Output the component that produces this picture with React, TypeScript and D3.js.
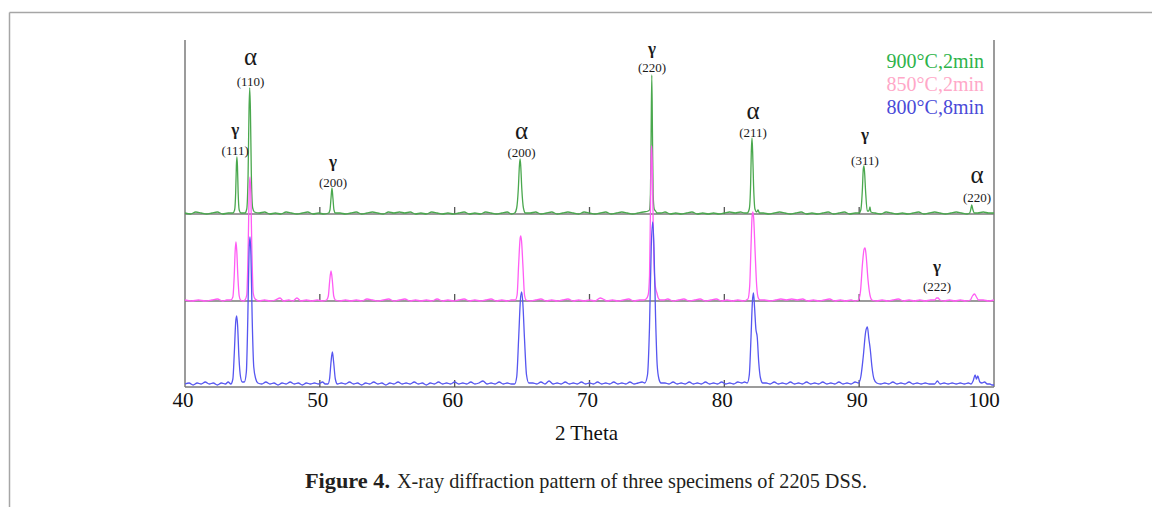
import * as d3 from "d3";

// ---------- data ----------
const X_TICKS = [40, 50, 60, 70, 80, 90, 100];
const INNER_TICKS = [50, 60, 70, 80, 90];
const SERIES_NAMES = ["900°C,2min", "850°C,2min", "800°C,8min"];
const STACK_OFFSETS = [173, 86, 0]; // vertical offset of each pattern (a.u.)

// [2θ, intensity a.u.]
const GREEN_PEAKS: [number, number][] = [
  [43.55, 1], [43.68, 4], [43.76, 22], [43.81, 48], [43.85, 57], [43.89, 48], [43.94, 22], [44.02, 4], [44.15, 1],
  [44.45, 1], [44.58, 5], [44.68, 40], [44.75, 105], [44.8, 126], [44.85, 105], [44.92, 40], [45.02, 6], [45.15, 2],
  [50.65, 1], [50.75, 4], [50.83, 16], [50.9, 26], [50.97, 16], [51.05, 4], [51.15, 1],
  [64.45, 1], [64.6, 6], [64.72, 25], [64.8, 48], [64.85, 55], [64.9, 48], [64.98, 25], [65.1, 6], [65.25, 1],
  [74.35, 3], [74.45, 4], [74.52, 20], [74.57, 80], [74.62, 139], [74.67, 80], [74.72, 20], [74.8, 5], [74.9, 3], [75.0, 1],
  [81.7, 1], [81.85, 5], [81.95, 30], [82.0, 62], [82.05, 76], [82.1, 62], [82.17, 28], [82.27, 5], [82.4, 2], [82.5, 4], [82.6, 1],
  [90.0, 1], [90.12, 4], [90.24, 25], [90.3, 44], [90.35, 48], [90.4, 42], [90.48, 22], [90.6, 3], [90.72, 3], [90.8, 7], [90.87, 2],
  [98.2, 1], [98.3, 6], [98.35, 9], [98.42, 5], [98.55, 1],
];
const GREEN_NOISE: [number, number][] = [
  [40.0, 1], [40.4, 0], [40.8, 2], [41.2, 1], [41.6, 0], [42.0, 1], [42.4, 2], [42.8, 0], [43.2, 1],
  [44.3, 1], [45.5, 1], [45.9, 2], [46.3, 0], [46.7, 1], [47.1, 0], [47.5, 2], [47.9, 1], [48.3, 0], [48.7, 1],
  [49.1, 2], [49.5, 0], [49.9, 1], [50.3, 0], [51.5, 1], [51.9, 0], [52.3, 1], [52.7, 2], [53.1, 0], [53.5, 1],
  [53.9, 2], [54.3, 1], [54.7, 0], [55.1, 2], [55.5, 1], [55.9, 2], [56.3, 1], [56.7, 2], [57.1, 0], [57.5, 1],
  [57.9, 0], [58.3, 2], [58.7, 1], [59.1, 0], [59.5, 1], [59.9, 0], [60.3, 1], [60.7, 2], [61.1, 0], [61.5, 1],
  [61.9, 0], [62.3, 2], [62.7, 1], [63.1, 0], [63.5, 1], [63.9, 2], [64.2, 0], [65.6, 1], [66.0, 2], [66.4, 0],
  [66.8, 1], [67.2, 2], [67.6, 0], [68.0, 1], [68.4, 2], [68.8, 1], [69.2, 0], [69.6, 2], [70.0, 1], [70.4, 0],
  [70.8, 1], [71.2, 2], [71.6, 0], [72.0, 1], [72.4, 2], [72.8, 1], [73.2, 0], [73.6, 1], [74.0, 2], [75.3, 1],
  [75.6, 2], [76.0, 0], [76.4, 1], [76.8, 0], [77.2, 1], [77.6, 2], [78.0, 0], [78.4, 1], [78.8, 0], [79.2, 1],
  [79.6, 0], [80.0, 1], [80.4, 2], [80.8, 1], [81.2, 2], [81.5, 1], [82.9, 1], [83.3, 0], [83.7, 1], [84.1, 2],
  [84.5, 1], [84.9, 0], [85.3, 1], [85.7, 2], [86.1, 0], [86.5, 1], [86.9, 0], [87.3, 1], [87.7, 2], [88.1, 0],
  [88.5, 1], [88.9, 2], [89.3, 0], [89.7, 1], [91.2, 1], [91.6, 0], [92.0, 2], [92.4, 1], [92.8, 0], [93.2, 1],
  [93.6, 0], [94.0, 1], [94.4, 2], [94.8, 0], [95.2, 1], [95.6, 2], [96.0, 1], [96.4, 0], [96.8, 1], [97.2, 2],
  [97.6, 1], [98.0, 0], [98.8, 1], [99.2, 2], [99.6, 1], [100, 1],
];

const PINK_PEAKS: [number, number][] = [
  [43.4, 1], [43.55, 4], [43.65, 25], [43.72, 50], [43.78, 59], [43.84, 50], [43.92, 25], [44.02, 5], [44.12, 1],
  [44.45, 1], [44.58, 6], [44.68, 50], [44.76, 110], [44.82, 124], [44.88, 108], [44.96, 50], [45.06, 8], [45.2, 2],
  [50.5, 1], [50.63, 5], [50.73, 20], [50.83, 30], [50.93, 20], [51.03, 5], [51.15, 1],
  [64.5, 1], [64.63, 6], [64.75, 38], [64.85, 62], [64.9, 65], [64.96, 60], [65.06, 36], [65.18, 6], [65.3, 1],
  [74.2, 2], [74.35, 6], [74.45, 25], [74.52, 90], [74.58, 150], [74.62, 155], [74.66, 130], [74.72, 80], [74.78, 40], [74.88, 15], [75.0, 8], [75.1, 3], [75.25, 1],
  [81.75, 2], [81.88, 15], [81.98, 55], [82.06, 85], [82.12, 89], [82.18, 82], [82.28, 50], [82.4, 15], [82.52, 3], [82.65, 1],
  [89.95, 1], [90.1, 10], [90.25, 38], [90.37, 52], [90.44, 53], [90.52, 45], [90.65, 22], [90.8, 6], [90.95, 1],
  [95.6, 1], [95.75, 3], [95.85, 3], [96.0, 1],
  [98.25, 1], [98.4, 5], [98.55, 7], [98.7, 4], [98.85, 1],
];
const PINK_NOISE: [number, number][] = [
  [40.0, 1], [40.5, 0], [41.0, 1], [41.5, 0], [42.0, 1], [42.4, 2], [42.8, 0], [43.1, 1], [44.3, 0],
  [45.5, 0], [45.9, 1], [46.3, 0], [46.7, 1], [47.05, 3], [47.3, 0], [47.7, 1], [48.0, 0], [48.3, 3], [48.6, 0],
  [49.0, 1], [49.4, 0], [49.8, 1], [50.2, 0], [51.5, 0], [51.9, 1], [52.3, 0], [52.7, 1], [53.1, 0], [53.5, 2],
  [53.9, 1], [54.3, 0], [54.7, 1], [55.1, 2], [55.5, 0], [55.9, 1], [56.3, 2], [56.7, 0], [57.1, 1], [57.5, 0],
  [57.9, 1], [58.3, 0], [58.7, 2], [59.1, 0], [59.5, 1], [59.9, 0], [60.3, 1], [60.7, 2], [61.1, 0], [61.5, 1],
  [61.9, 0], [62.3, 1], [62.7, 2], [63.1, 0], [63.5, 1], [63.9, 0], [64.2, 1], [65.6, 0], [66.0, 1], [66.4, 2],
  [66.8, 0], [67.2, 1], [67.6, 0], [68.0, 1], [68.4, 2], [68.8, 0], [69.2, 1], [69.6, 0], [70.0, 1], [70.4, 0],
  [70.8, 3], [71.0, 2], [71.3, 0], [71.7, 1], [72.1, 0], [72.5, 1], [72.9, 2], [73.3, 0], [73.7, 1], [74.0, 1],
  [75.5, 1], [75.8, 2], [76.2, 0], [76.6, 1], [77.0, 2], [77.4, 0], [77.8, 1], [78.2, 2], [78.6, 0], [79.0, 1],
  [79.4, 2], [79.8, 0], [80.2, 1], [80.6, 0], [81.0, 1], [81.4, 0], [83.0, 1], [83.4, 0], [83.8, 1], [84.2, 2],
  [84.6, 1], [85.0, 2], [85.4, 1], [85.8, 2], [86.2, 0], [86.6, 1], [87.0, 0], [87.4, 1], [87.8, 2], [88.2, 0],
  [88.6, 1], [89.0, 0], [89.4, 1], [89.7, 0], [91.3, 0], [91.7, 1], [92.1, 0], [92.5, 1], [92.9, 2], [93.3, 0],
  [93.7, 1], [94.1, 0], [94.5, 1], [94.9, 0], [95.3, 1], [96.3, 0], [96.7, 1], [97.1, 0], [97.5, 1], [97.9, 0],
  [99.2, 1], [99.6, 0], [100, 1],
];

const BLUE_PEAKS: [number, number][] = [
  [43.4, 3], [43.55, 8], [43.66, 35], [43.76, 65], [43.83, 71], [43.9, 62], [44.0, 30], [44.12, 10], [44.25, 5],
  [44.4, 5], [44.55, 15], [44.66, 70], [44.75, 135], [44.82, 150], [44.89, 132], [44.98, 70], [45.1, 20], [45.25, 8], [45.4, 4],
  [50.6, 3], [50.72, 8], [50.83, 25], [50.93, 35], [51.03, 24], [51.15, 8], [51.3, 3],
  [64.45, 3], [64.6, 10], [64.75, 50], [64.88, 88], [64.97, 95], [65.05, 85], [65.18, 48], [65.33, 12], [65.5, 4],
  [74.1, 4], [74.3, 12], [74.45, 60], [74.58, 140], [74.69, 165], [74.78, 140], [74.9, 70], [75.02, 22], [75.15, 8], [75.3, 4],
  [81.7, 4], [81.85, 12], [81.98, 50], [82.08, 85], [82.16, 94], [82.24, 80], [82.34, 58], [82.44, 50], [82.55, 25], [82.68, 9], [82.85, 4],
  [89.95, 4], [90.12, 10], [90.3, 30], [90.48, 55], [90.61, 60], [90.72, 48], [90.82, 38], [90.95, 20], [91.1, 8], [91.3, 4],
  [95.6, 3], [95.8, 6], [96.0, 3],
  [98.3, 3], [98.45, 6], [98.6, 12], [98.7, 8], [98.8, 11], [98.95, 5], [99.1, 4], [99.3, 5], [99.5, 3], [99.7, 3], [99.85, 2],
];
const BLUE_NOISE: [number, number][] = [
  [40.0, 3], [40.3, 4], [40.6, 2], [40.9, 4], [41.2, 3], [41.5, 5], [41.8, 3], [42.1, 4], [42.4, 2], [42.7, 4], [43.0, 3], [43.2, 5],
  [45.7, 3], [46.0, 5], [46.3, 3], [46.6, 4], [46.9, 2], [47.2, 4], [47.5, 3], [47.8, 5], [48.1, 3], [48.4, 4], [48.7, 2],
  [49.0, 4], [49.3, 3], [49.6, 4], [49.9, 3], [50.2, 5], [50.4, 3], [51.6, 4], [51.9, 3], [52.2, 5], [52.5, 3], [52.8, 4],
  [53.1, 2], [53.4, 4], [53.7, 3], [54.0, 5], [54.3, 3], [54.6, 4], [54.9, 2], [55.2, 4], [55.5, 3], [55.8, 5], [56.1, 3],
  [56.4, 4], [56.7, 3], [57.0, 5], [57.3, 3], [57.6, 4], [57.9, 2], [58.2, 4], [58.5, 3], [58.8, 5], [59.1, 3], [59.4, 4],
  [59.7, 3], [60.0, 5], [60.3, 3], [60.6, 4], [60.9, 3], [61.2, 5], [61.5, 3], [61.8, 4], [62.1, 6], [62.4, 3], [62.7, 4],
  [63.0, 3], [63.3, 5], [63.6, 3], [63.9, 4], [64.2, 3], [65.8, 4], [66.1, 3], [66.4, 5], [66.7, 3], [67.0, 6], [67.3, 3],
  [67.6, 4], [67.9, 3], [68.2, 5], [68.5, 3], [68.8, 4], [69.1, 3], [69.4, 5], [69.7, 3], [70.0, 4], [70.3, 3], [70.6, 5],
  [70.9, 3], [71.2, 4], [71.5, 3], [71.8, 5], [72.1, 3], [72.4, 4], [72.7, 3], [73.0, 5], [73.3, 3], [73.6, 4], [73.9, 5],
  [75.6, 4], [75.9, 3], [76.2, 5], [76.5, 3], [76.8, 4], [77.1, 3], [77.4, 5], [77.7, 3], [78.0, 4], [78.3, 3], [78.6, 5],
  [78.9, 3], [79.2, 4], [79.5, 3], [79.8, 5], [80.1, 3], [80.4, 4], [80.7, 3], [81.0, 5], [81.3, 4], [81.5, 5], [83.1, 4],
  [83.4, 3], [83.7, 5], [84.0, 3], [84.3, 4], [84.6, 3], [84.9, 5], [85.2, 3], [85.5, 4], [85.8, 3], [86.1, 5], [86.4, 3],
  [86.7, 4], [87.0, 3], [87.3, 5], [87.6, 3], [87.9, 4], [88.2, 3], [88.5, 5], [88.8, 3], [89.1, 4], [89.4, 3], [89.7, 5],
  [91.6, 3], [91.9, 4], [92.2, 3], [92.5, 5], [92.8, 3], [93.1, 4], [93.4, 3], [93.7, 5], [94.0, 3], [94.3, 4], [94.6, 3],
  [94.9, 4], [95.2, 3], [96.3, 4], [96.6, 3], [96.9, 4], [97.2, 3], [97.5, 4], [97.8, 3], [98.1, 4], [100, 2],
];

// peak annotations: phase symbol, Miller indices, 2θ, y of symbol, y of indices (a.u., from bottom axis)
const PEAK_LABELS = [
  { phase: "γ", hkl: "(111)", x: 43.72, yPhase: 252, yHkl: 232.5 },
  { phase: "α", hkl: "(110)", x: 44.86, yPhase: 322, yHkl: 301.5 },
  { phase: "γ", hkl: "(200)", x: 50.98, yPhase: 220, yHkl: 200.5 },
  { phase: "α", hkl: "(200)", x: 64.96, yPhase: 248, yHkl: 230.5 },
  { phase: "γ", hkl: "(220)", x: 74.64, yPhase: 333, yHkl: 315.5 },
  { phase: "α", hkl: "(211)", x: 82.13, yPhase: 268, yHkl: 250.5 },
  { phase: "γ", hkl: "(311)", x: 90.43, yPhase: 247, yHkl: 222.5 },
  { phase: "α", hkl: "(220)", x: 98.74, yPhase: 204, yHkl: 185.5 },
  { phase: "γ", hkl: "(222)", x: 95.77, yPhase: 115, yHkl: 96.5 },
];

const LINE_COLORS = ["#4aa84e", "#ff5cf4", "#5656f0"];
const LEGEND_COLORS = ["#2db34a", "#ffa8c8", "#4a4ad8"];

const SERIES = [
  [...GREEN_PEAKS, ...GREEN_NOISE],
  [...PINK_PEAKS, ...PINK_NOISE],
  [...BLUE_PEAKS, ...BLUE_NOISE],
].map((pts) => pts.slice().sort((a, b) => a[0] - b[0]));

export default function App() {
  const W = 1152, H = 507;
  const x = d3.scaleLinear().domain([40, 100]).range([185, 994]);
  const y = d3.scaleLinear().domain([0, 347]).range([387, 40]);
  const serif = "'Liberation Serif', 'Times New Roman', serif";

  const lines = SERIES.map((pts, i) =>
    d3
      .line<[number, number]>()
      .x((d) => x(d[0]))
      .y((d) => y(d[1] + STACK_OFFSETS[i]))
      .curve(d3.curveMonotoneX)(pts as [number, number][])
  );

  return (
    <svg width={W} height={H} style={{ position: "absolute", left: 0, top: 0, background: "#fff" }}>
      {/* page frame */}
      <line x1={9.5} y1={12.5} x2={W} y2={12.5} stroke="#a6a6a6" strokeWidth={1.5} />
      <line x1={9.5} y1={12.5} x2={9.5} y2={H} stroke="#a6a6a6" strokeWidth={1.5} />

      {/* axes frame */}
      <line x1={x(40)} y1={40} x2={x(40)} y2={y(0)} stroke="#7a7a7a" strokeWidth={1.5} />
      <line x1={x(100)} y1={40} x2={x(100)} y2={y(0)} stroke="#7a7a7a" strokeWidth={1.5} />
      {STACK_OFFSETS.map((o, i) => (
        <g key={i}>
          <line x1={x(40)} y1={y(o)} x2={x(100)} y2={y(o)} stroke="#7a7a7a" strokeWidth={1.5} />
          {INNER_TICKS.map((t) => (
            <line key={t} x1={x(t)} y1={y(o)} x2={x(t)} y2={y(o) - 7} stroke="#555" strokeWidth={1.3} />
          ))}
        </g>
      ))}

      {/* patterns */}
      {lines.map((d, i) => (
        <path key={i} d={d || ""} fill="none" stroke={LINE_COLORS[i]} strokeWidth={1.3} strokeLinejoin="round" />
      ))}

      {/* tick labels */}
      {X_TICKS.map((t) => (
        <text
          key={t}
          x={x(t) + (t === 100 ? -10 : -2)}
          y={407}
          textAnchor="middle"
          fontFamily={serif}
          fontSize={21}
          fill="#111"
        >
          {t}
        </text>
      ))}
      <text x={(x(40) + x(100)) / 2 - 3} y={440} textAnchor="middle" fontFamily={serif} fontSize={21} fill="#111">
        2 Theta
      </text>

      {/* peak labels */}
      {PEAK_LABELS.map((p, i) => (
        <g key={i} fontFamily={serif} fill="#1a1a1a" textAnchor="middle">
          <text
            x={x(p.x)}
            y={y(p.yPhase)}
            fontSize={p.phase === "α" ? 25 : 17}
            fontWeight={p.phase === "γ" ? "bold" : "normal"}
          >
            {p.phase}
          </text>
          <text x={x(p.x)} y={y(p.yHkl)} fontSize={13}>
            {p.hkl}
          </text>
        </g>
      ))}

      {/* legend */}
      {SERIES_NAMES.map((n, i) => (
        <text key={n} x={984} y={68 + i * 23} textAnchor="end" fontFamily={serif} fontSize={20} fill={LEGEND_COLORS[i]}>
          {n}
        </text>
      ))}

      {/* caption */}
      <text x={305} y={488} fontFamily={serif} fontSize={21} fontWeight="bold" fill="#231f20" textLength={85} lengthAdjust="spacingAndGlyphs">
        Figure 4.
      </text>
      <text x={397} y={488} fontFamily={serif} fontSize={21} fill="#231f20" textLength={470} lengthAdjust="spacingAndGlyphs">
        X-ray diffraction pattern of three specimens of 2205 DSS.
      </text>
    </svg>
  );
}
